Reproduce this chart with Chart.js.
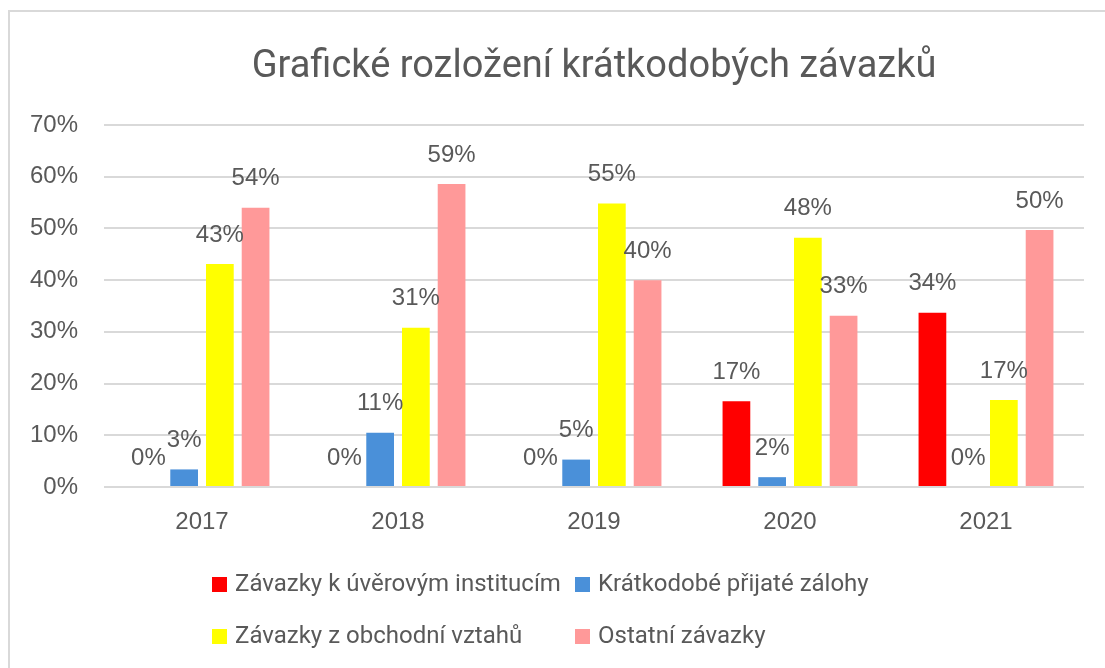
<!DOCTYPE html>
<html>
<head>
<meta charset="utf-8">
<script src="https://cdn.jsdelivr.net/npm/chart.js@4.4.1/dist/chart.umd.min.js"></script>
<style>
  html, body { margin: 0; padding: 0; background: #ffffff; overflow: hidden; }
  #frame { position: absolute; left: 8px; top: 10px; width: 1200px; height: 800px;
           border: 2px solid #d9d9d9; box-sizing: border-box; }
  #wrap { position: absolute; left: 0; top: 0; width: 1105px; height: 668px; }
</style>
</head>
<body>
<div id="frame"></div>
<div id="wrap"><canvas id="c" width="1105" height="668"></canvas></div>
<script>
const chartTitle = "Grafické rozložení krátkodobých závazků";
const categories = ["2017", "2018", "2019", "2020", "2021"];
const seriesNames = ["Závazky k úvěrovým institucím", "Krátkodobé přijaté zálohy",
                     "Závazky z obchodní vztahů", "Ostatní závazky"];
const uverove   = [0, 0, 0, 16.6, 33.7];
const zalohy    = [3.4, 10.5, 5.3, 1.9, 0];
const obchodni  = [43.1, 30.8, 54.8, 48.2, 16.8];
const ostatni   = [54.0, 58.6, 40.0, 33.1, 49.7];
const yTicks    = [0, 10, 20, 30, 40, 50, 60, 70];
const colors    = ["#ff0000", "#4a90d9", "#ffff00", "#ff9999"];

const textColor = "#595959";
const axisFont = "'Liberation Sans', Arial, sans-serif";
const narrowFont = "Roboto, 'Noto Sans', sans-serif";

const dataLabels = {
  id: "dataLabels",
  afterDatasetsDraw(chart) {
    const ctx = chart.ctx;
    ctx.save();
    ctx.font = "24px " + axisFont;
    ctx.fillStyle = textColor;
    ctx.textAlign = "center";
    ctx.textBaseline = "middle";
    chart.data.datasets.forEach((ds, i) => {
      const meta = chart.getDatasetMeta(i);
      meta.data.forEach((bar, j) => {
        ctx.fillText(Math.round(ds.data[j]) + "%", bar.x, bar.y - 29);
      });
    });
    ctx.restore();
  }
};

const gridLegend = {
  id: "gridLegend",
  afterDraw(chart) {
    const ctx = chart.ctx;
    const area = chart.chartArea;
    ctx.save();
    ctx.font = "24px " + narrowFont;
    ctx.textBaseline = "middle";
    ctx.textAlign = "left";
    const colX = [area.left + 108, area.left + 471];
    const rowY = [area.bottom + 98, area.bottom + 150];
    chart.data.datasets.forEach((ds, i) => {
      const x = colX[i % 2], y = rowY[Math.floor(i / 2)];
      ctx.fillStyle = ds.backgroundColor;
      ctx.fillRect(x, y - 8, 15, 15);
      ctx.fillStyle = textColor;
      ctx.fillText(ds.label, x + 23, y);
    });
    ctx.restore();
  }
};

const seriesData = [uverove, zalohy, obchodni, ostatni];

new Chart(document.getElementById("c"), {
  type: "bar",
  data: {
    labels: categories,
    datasets: seriesNames.map((name, i) => ({
      label: name,
      data: seriesData[i],
      backgroundColor: colors[i],
      borderWidth: 0,
      categoryPercentage: 0.729,
      barPercentage: 0.776
    }))
  },
  options: {
    responsive: false,
    animation: false,
    layout: { padding: { left: 0, right: 21, top: 0, bottom: 131 } },
    plugins: {
      legend: { display: false },
      tooltip: { enabled: false },
      title: {
        display: true,
        fullSize: false,
        text: chartTitle,
        color: textColor,
        font: { family: narrowFont, size: 38, weight: "normal", lineHeight: 1.2 },
        padding: { top: 45, bottom: 34.4 }
      }
    },
    scales: {
      x: {
        grid: { display: false, drawTicks: false },
        border: { display: false },
        ticks: { color: textColor, font: { family: axisFont, size: 24 }, padding: 21 },
        afterFit(scale) { scale.height = 50; }
      },
      y: {
        min: 0, max: 70,
        grid: { color: "#d9d9d9", lineWidth: 2, drawTicks: false },
        border: { display: false },
        afterBuildTicks(scale) { scale.ticks = yTicks.map(v => ({ value: v })); },
        ticks: {
          color: textColor,
          font: { family: axisFont, size: 24 },
          padding: 26,
          callback: v => v + "%"
        },
        afterFit(scale) { scale.width = 104; }
      }
    }
  },
  plugins: [dataLabels, gridLegend]
});
</script>
</body>
</html>
